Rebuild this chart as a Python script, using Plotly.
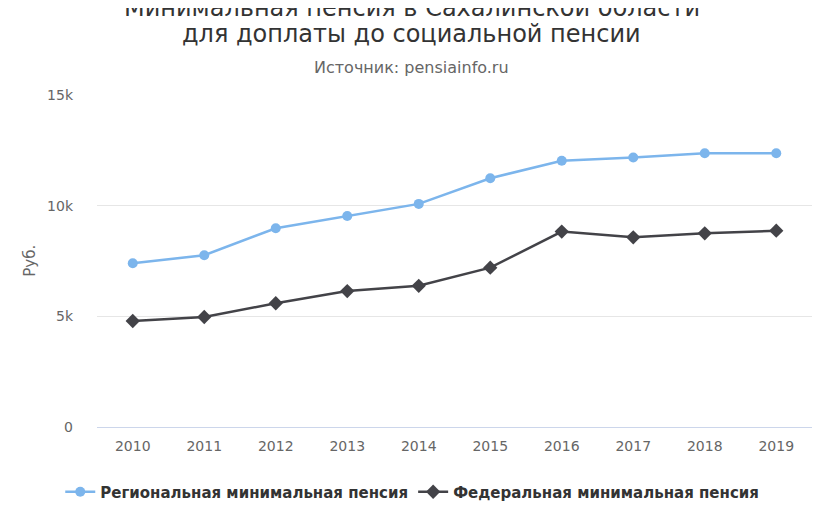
import plotly.graph_objects as go

years = ["2010", "2011", "2012", "2013", "2014", "2015", "2016", "2017", "2018", "2019"]
regional = [7400, 7760, 8980, 9530, 10080, 11240, 12030, 12180, 12370, 12370]
federal = [4790, 4970, 5590, 6140, 6380, 7200, 8830, 8570, 8750, 8870]
y_ticks = [0, 5000, 10000, 15000]
y_tick_labels = ["0", "5k", "10k", "15k"]

font = "DejaVu Sans"

fig = go.Figure()
fig.add_trace(go.Scatter(x=years, y=regional, name="Региональная минимальная пенсия",
                         mode="lines+markers",
                         line=dict(color="#7cb5ec", width=2.5),
                         marker=dict(symbol="circle", size=10, color="#7cb5ec")))
fig.add_trace(go.Scatter(x=years, y=federal, name="Федеральная минимальная пенсия",
                         mode="lines+markers",
                         line=dict(color="#434348", width=2.5),
                         marker=dict(symbol="diamond", size=11, color="#434348")))

# the page body has an 8px margin, so everything is placed 8px up/left
fig.update_layout(
    width=825, height=510,
    paper_bgcolor="white", plot_bgcolor="white",
    margin=dict(l=89, r=21, t=87, b=91),
    font=dict(family=font, color="#666666", size=14),
    showlegend=True,
    legend=dict(orientation="h", xref="container", yref="container",
                x=0.49, xanchor="center", y=0.051, yanchor="middle",
                font=dict(family=font, size=15, color="#333333", weight="bold"),
                itemwidth=30),
    xaxis=dict(type="category", showgrid=False, showline=True, linecolor="#ccd6eb",
               linewidth=1, ticks="", tickfont=dict(size=14, color="#666666"),
               ticklabelstandoff=6, range=[-0.5, 9.5]),
    yaxis=dict(range=[0, 15000], tickvals=y_ticks, ticktext=y_tick_labels,
               showgrid=True, gridcolor="#e6e6e6", zeroline=False, showline=False,
               tickfont=dict(size=14, color="#666666"), ticklabelstandoff=23),
    annotations=[
        dict(text="Минимальная пенсия в Сахалинской области", xref="paper", yref="paper",
             x=0.44, y=1.262, xanchor="center", yanchor="middle", showarrow=False,
             font=dict(family=font, size=24, color="#333333")),
        dict(text="для доплаты до социальной пенсии", xref="paper", yref="paper",
             x=0.44, y=1.184, xanchor="center", yanchor="middle", showarrow=False,
             font=dict(family=font, size=24, color="#333333")),
        dict(text="Источник: pensiainfo.ru", xref="paper", yref="paper", x=0.44, y=1.084,
             xanchor="center", yanchor="middle", showarrow=False,
             font=dict(family=font, size=16, color="#666666")),
        dict(text="Руб.", xref="paper", yref="paper", x=-0.094, y=0.5,
             xanchor="center", yanchor="middle", showarrow=False, textangle=-90,
             font=dict(family=font, size=15, color="#666666")),
    ],
)

fig.write_html("out.html")
